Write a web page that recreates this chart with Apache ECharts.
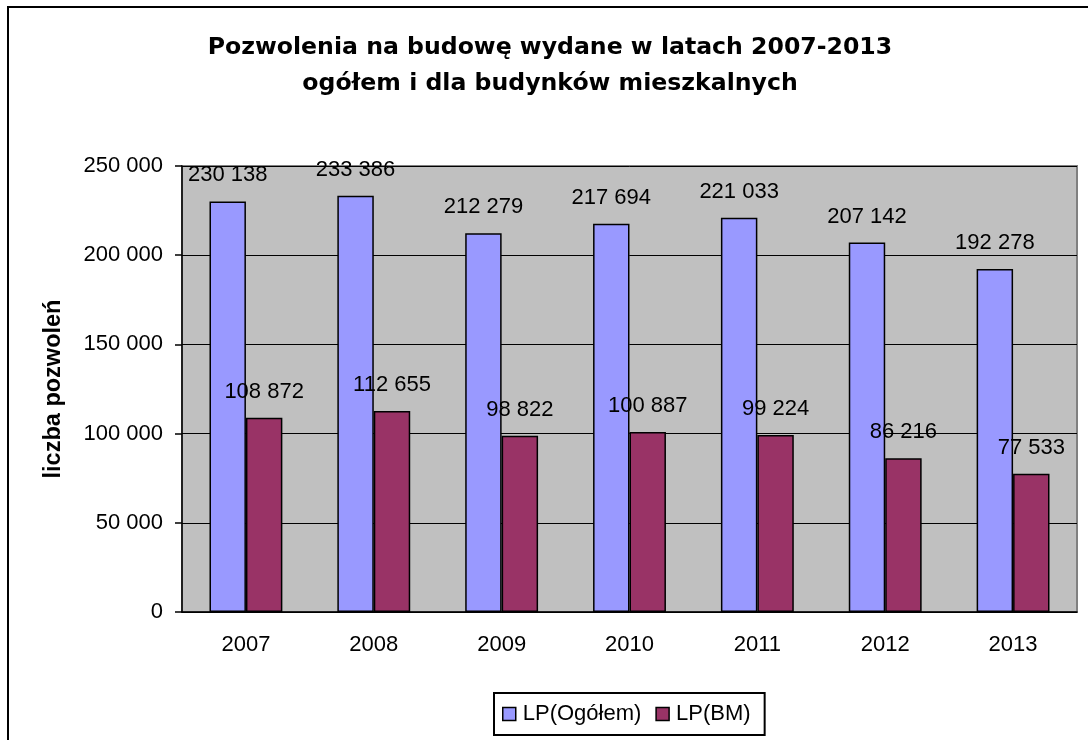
<!DOCTYPE html>
<html>
<head>
<meta charset="utf-8">
<script src="https://cdn.jsdelivr.net/npm/echarts@6/dist/echarts.min.js"></script>
<style>
  html, body { margin: 0; padding: 0; background: #fff; }
  #chart { width: 1088px; height: 740px; }
</style>
</head>
<body>
<div id="chart"></div>
<script>
// dane z wykresu
const years = ['2007', '2008', '2009', '2010', '2011', '2012', '2013'];
const lpOgolem = [230138, 233386, 212279, 217694, 221033, 207142, 192278];
const lpBM = [108872, 112655, 98822, 100887, 99224, 86216, 77533];
const seriesNames = ['LP(Ogółem)', 'LP(BM)'];
const yTicks = { min: 0, max: 250000, step: 50000 };

const FONT = 'Liberation Sans, Arial, sans-serif';

// 230138 -> "230 138"
function fmt(v) {
  return String(v).replace(/\B(?=(\d{3})+(?!\d))/g, ' ');
}

const chart = echarts.init(document.getElementById('chart'));

const barLabel = {
  show: true,
  position: 'top',
  distance: 15,
  color: '#000',
  fontSize: 22,
  fontFamily: FONT,
  formatter: p => fmt(p.value)
};

chart.setOption({
  animation: false,
  backgroundColor: '#fff',
  graphic: [{
    type: 'rect',
    z: -10,
    shape: { x: 8, y: 7, width: 1100, height: 800 },
    style: { fill: 'none', stroke: '#000', lineWidth: 2 }
  }],
  title: {
    text: 'Pozwolenia na budowę wydane w latach 2007-2013\nogółem i dla budynków mieszkalnych',
    left: 550,
    top: 30,
    padding: 0,
    textAlign: 'center',
    textStyle: {
      fontFamily: 'DejaVu Sans, sans-serif',
      fontWeight: 'bold',
      fontSize: 23.6,
      lineHeight: 36,
      color: '#000'
    }
  },
  legend: {
    data: seriesNames,
    left: 494,
    top: 693,
    padding: [10, 14, 10, 8],
    borderColor: '#000',
    borderWidth: 2,
    itemWidth: 13,
    itemHeight: 13,
    itemGap: 14,
    icon: 'rect',
    itemStyle: { borderColor: '#000', borderWidth: 1.5 },
    textStyle: { fontFamily: FONT, fontSize: 22, color: '#000', padding: [0, 0, 0, 2] }
  },
  grid: {
    left: 182,
    top: 166,
    right: 11,
    bottom: 128,
    show: true,
    backgroundColor: '#C0C0C0',
    borderColor: '#808080',
    borderWidth: 2
  },
  xAxis: {
    type: 'category',
    data: years,
    axisLine: { lineStyle: { color: '#000', width: 1.5 } },
    axisTick: { length: 6, lineStyle: { color: '#000', width: 1.5 } },
    axisLabel: { color: '#000', fontSize: 22, fontFamily: FONT, margin: 22 }
  },
  yAxis: {
    type: 'value',
    min: yTicks.min,
    max: yTicks.max,
    interval: yTicks.step,
    name: 'liczba pozwoleń',
    nameLocation: 'middle',
    nameGap: 116,
    nameTextStyle: { fontFamily: FONT, fontWeight: 'bold', fontSize: 23.5, color: '#000' },
    axisLine: { show: true, lineStyle: { color: '#000', width: 1.5 } },
    axisTick: { show: true, length: 7, lineStyle: { color: '#000', width: 1.5 } },
    axisLabel: { color: '#000', fontSize: 22, fontFamily: FONT, margin: 19, formatter: v => fmt(v) },
    splitLine: { lineStyle: { color: '#000', width: 1 } }
  },
  series: [
    {
      name: seriesNames[0],
      type: 'bar',
      data: lpOgolem,
      barGap: '0%',
      barCategoryGap: '43%',
      itemStyle: { color: '#9999FF', borderColor: '#000', borderWidth: 1.5 },
      label: barLabel
    },
    {
      name: seriesNames[1],
      type: 'bar',
      data: lpBM,
      itemStyle: { color: '#993366', borderColor: '#000', borderWidth: 1.5 },
      label: barLabel
    }
  ]
});
</script>
</body>
</html>
